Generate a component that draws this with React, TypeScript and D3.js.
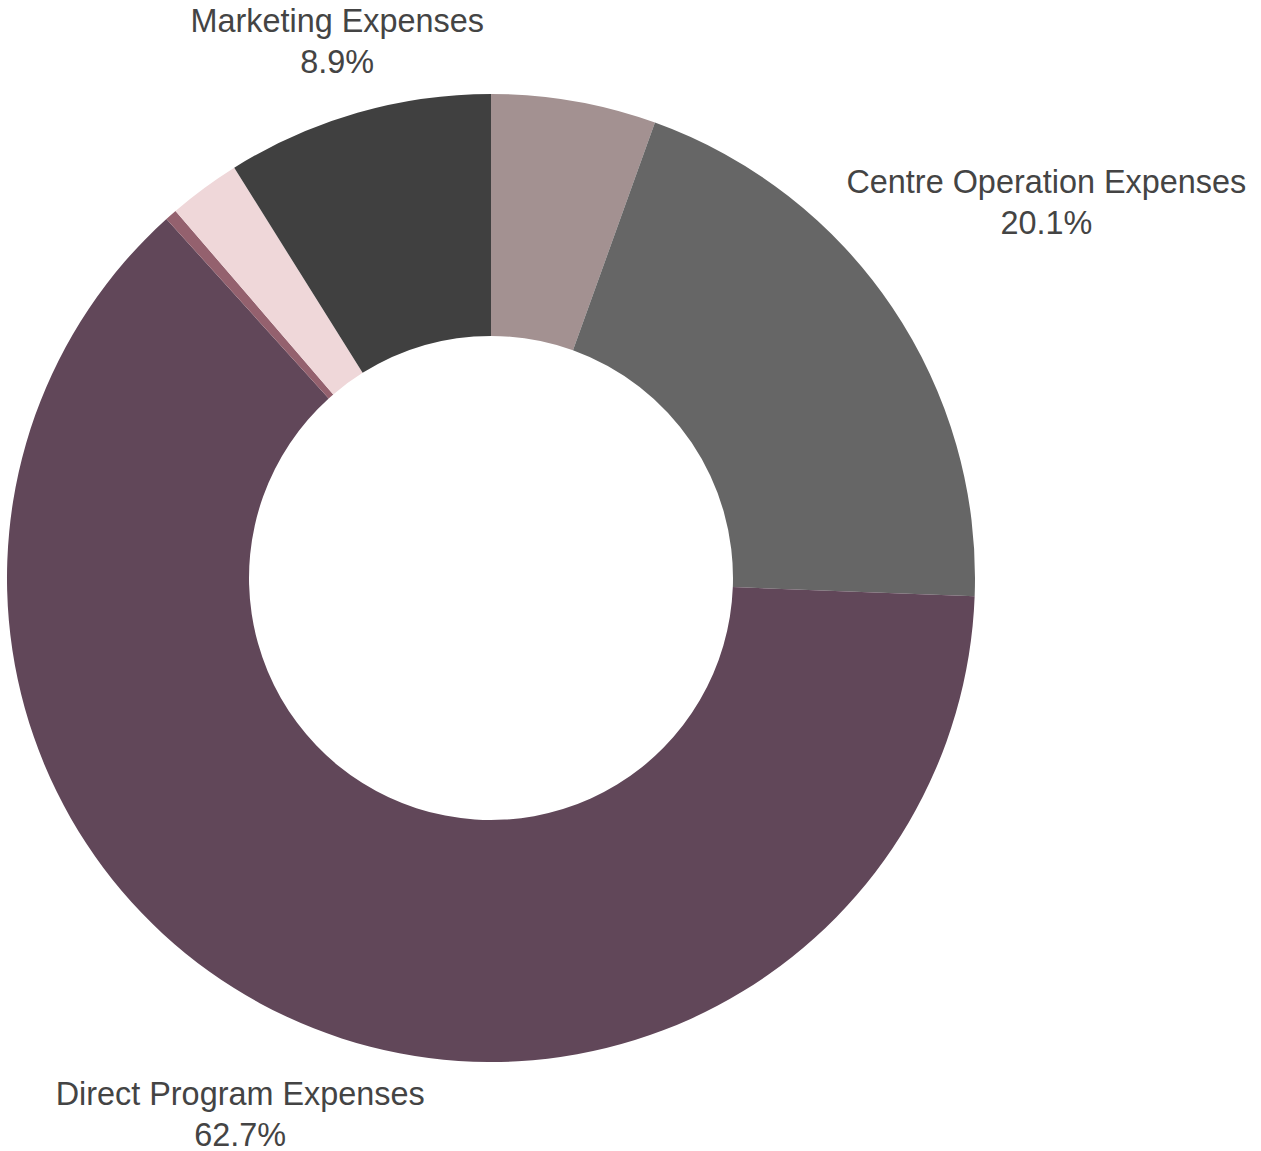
import React, { useEffect, useRef } from "react";
import * as d3 from "d3";

const categories = [
  "Administrative Expenses",
  "Centre Operation Expenses",
  "Direct Program Expenses",
  "Other Expenses",
  "Professional Fees",
  "Marketing Expenses",
];
const values = [5.5, 20.1, 62.7, 0.4, 2.4, 8.9];
const colors = ["#a39191", "#666666", "#614759", "#94616e", "#efd7d9", "#404040"];
const labelMin = 8;

const W = 1261;
const H = 1151;
const CX = 491;
const CY = 578;
const R_OUT = 484;
const R_IN = 242;
const LABEL_GAP = 3;
const FONT = 32.4;
const LINE = 41.5;
const BOX_H = 62;

export default function App() {
  const ref = useRef<SVGSVGElement>(null);
  useEffect(() => {
    const svg = d3.select(ref.current);
    svg.selectAll("*").remove();
    const data = categories.map((c, i) => ({ name: c, value: values[i], color: colors[i] }));
    const pie = d3.pie<any>().value((d) => d.value).sort(null).startAngle(0).endAngle(2 * Math.PI);
    const arcs = pie(data);
    const arc = d3.arc<any>().innerRadius(R_IN).outerRadius(R_OUT);
    const g = svg.append("g").attr("transform", `translate(${CX},${CY})`);
    g.selectAll("path")
      .data(arcs)
      .join("path")
      .attr("d", arc as any)
      .attr("fill", (d: any) => d.data.color);

    const total = d3.sum(values);
    arcs
      .filter((a) => a.data.value >= labelMin)
      .forEach((a) => {
        const mid = (a.startAngle + a.endAngle) / 2;
        const s = Math.sin(mid);
        const c = Math.cos(mid);
        const t = g
          .append("text")
          .attr("font-family", "'Liberation Sans', Arial, sans-serif")
          .attr("font-size", FONT)
          .attr("fill", "#444444")
          .attr("text-anchor", "middle");
        const t1 = t.append("tspan").text(a.data.name);
        const t2 = t.append("tspan").text(((a.data.value / total) * 100).toFixed(1) + "%");
        const w = Math.max(
          (t1.node() as any).getComputedTextLength(),
          (t2.node() as any).getComputedTextLength()
        );
        const d = R_OUT + LABEL_GAP + Math.abs(s) * (w / 2) + Math.abs(c) * (BOX_H / 2);
        const bx = d * s;
        const by = -d * c;
        const base1 = by - 10.5;
        t1.attr("x", bx).attr("y", base1);
        t2.attr("x", bx).attr("y", base1 + LINE);
      });
  }, []);
  return (
    <svg
      ref={ref}
      width={W}
      height={H}
      style={{ position: "absolute", left: 0, top: 0, background: "#ffffff" }}
    />
  );
}
